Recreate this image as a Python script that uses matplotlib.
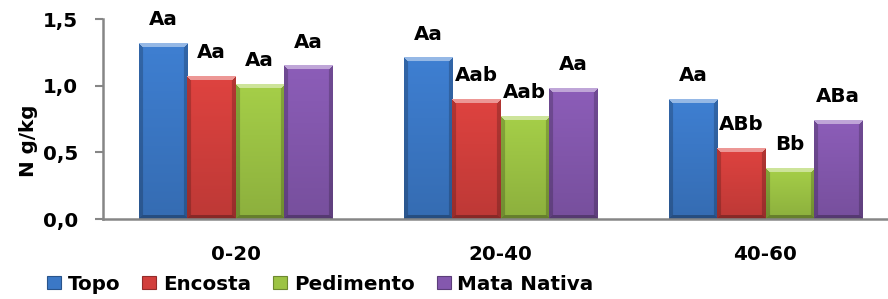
import numpy as np
import matplotlib
matplotlib.use('Agg')
import matplotlib.pyplot as plt
from matplotlib.patches import Patch
from matplotlib.colors import to_rgb

categories = ['0-20', '20-40', '40-60']
series = ['Topo', 'Encosta', 'Pedimento', 'Mata Nativa']
topo = [1.32, 1.21, 0.90]
encosta = [1.07, 0.90, 0.53]
pedimento = [1.01, 0.77, 0.38]
mata = [1.15, 0.98, 0.74]
labels_topo = ['Aa', 'Aa', 'Aa']
labels_encosta = ['Aa', 'Aab', 'ABb']
labels_pedimento = ['Aa', 'Aab', 'Bb']
labels_mata = ['Aa', 'Aa', 'ABa']
yticks = [0.0, 0.5, 1.0, 1.5]
ytick_labels = ['0,0', '0,5', '1,0', '1,5']

values = [topo, encosta, pedimento, mata]
letters = [labels_topo, labels_encosta, labels_pedimento, labels_mata]
colors = ['#3b78c6', '#d23f3c', '#9cc344', '#8458ae']

W, H, DPI = 888, 299, 100
FS = 14.3
plt.rcParams['font.family'] = ['DejaVu Sans']
plt.rcParams['font.weight'] = 'bold'

fig = plt.figure(figsize=(W / DPI, H / DPI), dpi=DPI)
ax_left, ax_right, ax_top, ax_bot = 103, 898, 19, 219
ax = fig.add_axes([ax_left / W, 1 - ax_bot / H, (ax_right - ax_left) / W, (ax_bot - ax_top) / H])
ax.set_xlim(-0.5, 2.5)
ax.set_ylim(0, 1.5)

px_per_x = (ax_right - ax_left) / 3.0
px_per_y = (ax_bot - ax_top) / 1.5


def bevel_image(color, w, h, b=4):
    c = np.array(to_rgb(color))
    w = max(int(round(w)), 2)
    h = max(int(round(h)), 2)
    yy, xx = np.mgrid[0:h, 0:w]
    t = yy / max(h - 1, 1)
    f = 1.06 - 0.16 * t
    img = c[None, None, :] * f[..., None]
    dl = xx
    dr = w - 1 - xx
    dt = yy
    db = h - 1 - yy
    top = (dt < b) & (dt <= dl) & (dt <= dr)
    bottom = (db < b) & (db <= dl) & (db <= dr) & ~top
    side = ((dl < b) | (dr < b)) & ~top & ~bottom
    white = np.ones(3)
    img[top] = img[top] * 0.55 + white * 0.45
    img[side] = img[side] * 0.80
    img[bottom] = img[bottom] * 0.72
    return np.clip(img, 0, 1)


bw = 0.182
x = np.arange(len(categories))
for i, (vals, col, labs) in enumerate(zip(values, colors, letters)):
    xs = x + (i - 1.5) * bw
    bars = ax.bar(xs, vals, width=bw, color=col, edgecolor='none', zorder=2)
    for b, v, lab in zip(bars, vals, labs):
        x0 = b.get_x()
        img = bevel_image(col, bw * px_per_x, v * px_per_y)
        ax.imshow(img, extent=(x0, x0 + bw, 0, v), aspect='auto',
                  interpolation='bilinear', zorder=3)
        ax.annotate(lab, (x0 + bw / 2, v), xytext=(0, 10), textcoords='offset points',
                    ha='center', va='bottom', fontsize=FS, fontweight='bold',
                    color='black', annotation_clip=False)

ax.set_xlim(-0.5, 2.5)
ax.set_ylim(0, 1.5)
ax.set_yticks(yticks)
ax.set_yticklabels(ytick_labels)
ax.set_xticks(x)
ax.set_xticklabels(categories)
ax.tick_params(axis='y', length=6, width=1.5, color='#868686', pad=12, labelsize=FS)
ax.tick_params(axis='x', length=0, pad=19, labelsize=FS)
for lab in ax.get_xticklabels() + ax.get_yticklabels():
    lab.set_fontweight('bold')
for s in ['top', 'right']:
    ax.spines[s].set_visible(False)
for s in ['left', 'bottom']:
    ax.spines[s].set_color('#868686')
    ax.spines[s].set_linewidth(1.8)
    ax.spines[s].set_zorder(4)

fig.text(28 / W, 1 - 141 / H, 'N g/kg', rotation=90, ha='center', va='center',
         fontsize=FS, fontweight='bold')

handles = [Patch(facecolor=c, edgecolor=tuple(np.array(to_rgb(c)) * 0.7), linewidth=0.8)
           for c in colors]
leg = fig.legend(handles, series, loc='center left', bbox_to_anchor=(47 / W, 1 - 284 / H),
                 ncol=4, frameon=False, handlelength=0.7, handleheight=0.6,
                 handletextpad=0.35, columnspacing=1.1, borderpad=0, borderaxespad=0,
                 prop={'size': FS, 'weight': 'bold'})

fig.savefig('out.png', dpi=DPI)
